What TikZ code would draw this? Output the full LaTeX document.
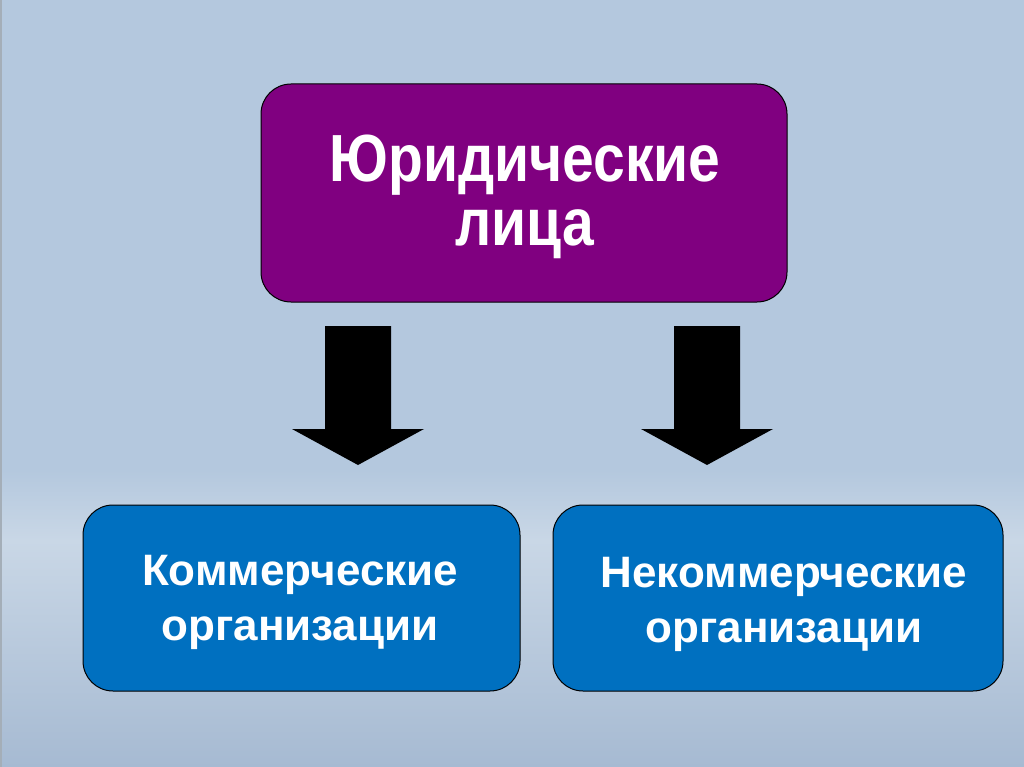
\documentclass[tikz,border=0pt]{standalone}
\usepackage{fontspec}
\usepackage{graphicx}
\setmainfont{Liberation Sans}
\usetikzlibrary{calc}
\definecolor{bgtop}{HTML}{B4C8DE}
\definecolor{bglight}{HTML}{C9D7E6}
\definecolor{bgbot}{HTML}{A6BAD2}
\definecolor{edge}{HTML}{A4AEB8}
\definecolor{purplebox}{HTML}{800080}
\definecolor{bluebox}{HTML}{0070C0}
\tikzset{
  box/.style={draw=black, line width=1pt, rounded corners=30pt, inner sep=0pt},
  label/.style={text=white, inner sep=0pt, anchor=base},
  blockarrow/.style={fill=black, draw=none}
}
\newcommand{\twolines}[2]{\begin{tabular}[t]{@{}c@{}}#1\\#2\end{tabular}}
\begin{document}
\begin{tikzpicture}[x=1pt,y=-1pt]
\useasboundingbox (0,0) rectangle (1024,767);
% background
\fill[bgtop] (0,0) rectangle (1024,470);
\shade[top color=bgtop, bottom color=bglight] (0,470) rectangle (1024,540);
\shade[top color=bglight, bottom color=bgbot] (0,540) rectangle (1024,767);
\fill[edge] (0,0) rectangle (1.5,767);
% boxes
\node[box, fill=purplebox, minimum width=526pt, minimum height=218pt] (top) at (524,193) {};
\node[box, fill=bluebox, minimum width=437pt, minimum height=186pt] (left) at (301.5,598) {};
\node[box, fill=bluebox, minimum width=450pt, minimum height=186pt] (right) at (778,598) {};
% texts
\node[label, font=\bfseries\fontsize{57}{54}\selectfont] (ttop) at (525,182)
  {\scalebox{1}[1.17]{\twolines{Юридические}{лица}}};
\node[label, font=\bfseries\fontsize{44}{55}\selectfont] (tleft) at (300,585)
  {\twolines{Коммерческие}{организации}};
\node[label, font=\bfseries\fontsize{44}{55}\selectfont] (tright) at (784,587)
  {\twolines{Некоммерческие}{организации}};
% block arrows
\coordinate (la) at (358,326);
\coordinate (ra) at (707,326);
\foreach \c in {la,ra}{
  \fill[blockarrow] ($(\c)+(-33,0)$) -- ($(\c)+(33,0)$) -- ($(\c)+(33,103)$) -- ($(\c)+(66,103)$)
    -- ($(\c)+(0,139)$) -- ($(\c)+(-66,103)$) -- ($(\c)+(-33,103)$) -- cycle;
}
\end{tikzpicture}
\end{document}
